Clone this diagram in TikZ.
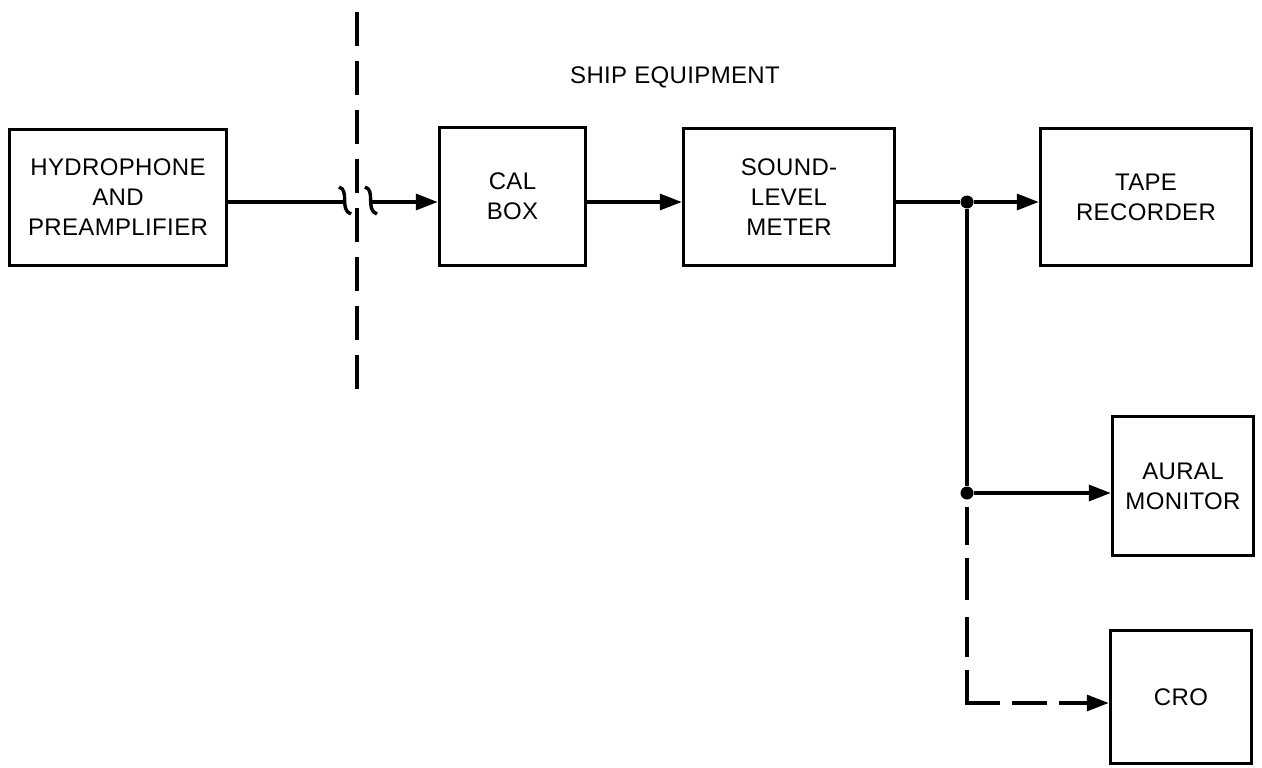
\documentclass[tikz,border=0pt]{standalone}
\usepackage{fontspec}
\setmainfont{Liberation Sans}[LetterSpace=1.5]
\usetikzlibrary{arrows.meta}
\begin{document}
\begin{tikzpicture}[x=1pt,y=-1pt,
  blk/.style={draw, line width=3.5pt, inner sep=0pt, align=center, font=\fontsize{24}{30}\selectfont},
  lbl/.style={inner sep=0pt, font=\fontsize{24}{30}\selectfont},
  wire/.style={line width=3.4pt},
  conn/.style={line width=3.4pt, -{Triangle[length=22pt,width=16pt]}},
  jdot/.style={circle, fill, inner sep=0pt, minimum size=13pt}]
\useasboundingbox (0,0) rectangle (1262,768);
\fill[white] (0,0) rectangle (1262,768);
% blocks
\node[blk, minimum width=217pt, minimum height=136pt] (hydro) at (118,197.5) {HYDROPHONE\\AND\\PREAMPLIFIER};
\node[blk, minimum width=146pt, minimum height=138pt] (cal) at (512.5,196.5) {CAL\\BOX};
\node[blk, minimum width=211pt, minimum height=137pt] (slm) at (789,197) {SOUND-\\LEVEL\\METER};
\node[blk, minimum width=211pt, minimum height=137pt] (tape) at (1146,197) {TAPE\\RECORDER};
\node[blk, minimum width=141pt, minimum height=139pt] (aural) at (1183,486) {AURAL\\MONITOR};
\node[blk, minimum width=141pt, minimum height=133pt] (cro) at (1181,697) {CRO};
\node[lbl] (ship) at (675,77) {SHIP EQUIPMENT};
% boundary
\draw[wire, dash pattern=on 34pt off 15pt] (357,12) -- (357,389);
% main line
\coordinate (ml) at (0,202);
\coordinate (bl) at (344,202);
\coordinate (br) at (371,202);
\draw[wire] (hydro.east |- ml) -- (bl);
\draw[wire] (339,187) .. controls (350,190) and (339,210) .. (351,214);
\draw[wire] (365,187) .. controls (376,190) and (365,210) .. (377,214);
\draw[conn] (br) -- (cal.west |- ml);
\draw[conn] (cal.east |- ml) -- (slm.west |- ml);
\node[jdot] (j1) at (967,202) {};
\draw[wire] (slm.east |- ml) -- (j1);
\draw[conn] (j1) -- (tape.west |- j1);
\node[jdot] (j2) at (967,493) {};
\draw[wire] (j1) -- (j2);
\draw[conn] (j2) -- (aural.west |- j2);
\coordinate (corner) at (967,703);
\draw[conn, dash pattern=on 38pt off 13pt on 42pt off 17pt on 40pt off 13pt on 66pt off 12pt on 35pt off 12pt on 200pt off 14pt, dash phase=488pt] (j2.center) -- (corner) -- (cro.west |- corner);
\end{tikzpicture}
\end{document}
